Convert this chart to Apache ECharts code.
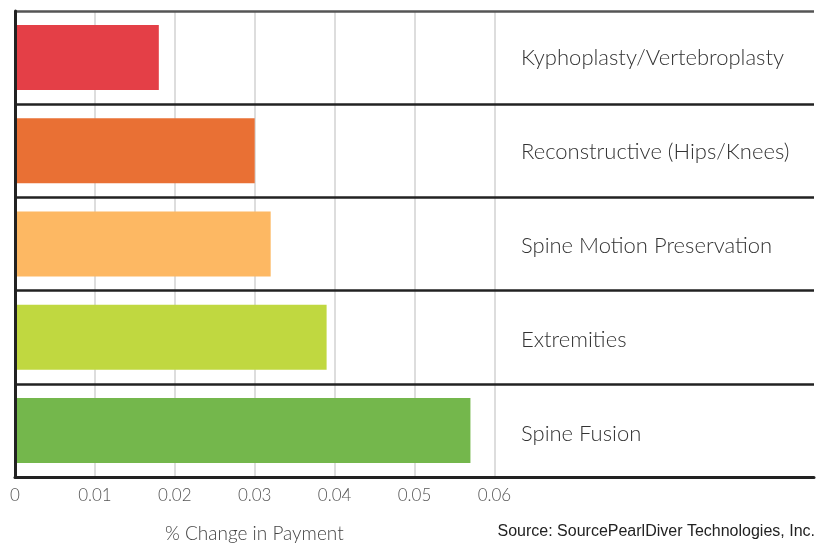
<!DOCTYPE html>
<html>
<head>
<meta charset="utf-8">
<script src="https://cdn.jsdelivr.net/npm/echarts@6/dist/echarts.min.js"></script>
<style>
  html, body { margin: 0; padding: 0; background: #fff; }
  #chart { width: 817px; height: 544px; }
</style>
</head>
<body>
<div id="chart"></div>
<script>
// Procedure categories, top to bottom
const categories = [
  'Kyphoplasty/Vertebroplasty',
  'Reconstructive (Hips/Knees)',
  'Spine Motion Preservation',
  'Extremities',
  'Spine Fusion'
];
// % change in payment for each category
const values = [0.018, 0.030, 0.032, 0.039, 0.057];
const barColors = ['#E43F47', '#E97034', '#FDB863', '#C0D840', '#74B74C'];
// Labelled ticks on the value axis
const tickLabels = ['0', '0.01', '0.02', '0.03', '0.04', '0.05', '0.06'];

const axisFont = "'Lato', 'Open Sans', sans-serif";

// Vertical grid lines only for the labelled ticks (0.01 – 0.06)
const splitColors = [];
for (let i = 0; i <= 10; i++) {
  splitColors.push(i >= 1 && i <= 6 ? '#d2d2d2' : 'rgba(0,0,0,0)');
}

// Category label styles: each row's text sits slightly lower than the one above
const labelRich = {};
for (let i = 0; i < categories.length; i++) {
  labelRich['n' + i] = {
    color: '#333',
    fontSize: 22,
    fontFamily: axisFont,
    fontWeight: 300,
    padding: [i * 2, 0, 0, 0]
  };
}

const chart = echarts.init(document.getElementById('chart'));
chart.setOption({
  animation: false,
  backgroundColor: '#ffffff',
  grid: { left: 15, right: 0, top: 11, bottom: 67 },
  xAxis: {
    type: 'value',
    min: 0,
    max: 0.1,
    interval: 0.01,
    axisLine: { show: true, lineStyle: { color: '#222', width: 3 } },
    axisTick: { show: false },
    axisLabel: {
      color: '#555',
      fontSize: 17,
      fontFamily: axisFont,
      fontWeight: 300,
      margin: 10,
      formatter: function (v) {
        const i = Math.round(v * 100);
        return i < tickLabels.length ? tickLabels[i] : '';
      }
    },
    splitLine: { show: true, lineStyle: { color: splitColors, width: 1.5 } }
  },
  yAxis: {
    type: 'category',
    data: categories,
    inverse: true,
    axisLine: { show: true, lineStyle: { color: '#222', width: 3 } },
    axisTick: { show: false },
    axisLabel: {
      inside: true,
      margin: 506,
      align: 'left',
      formatter: function (v, idx) { return '{n' + idx + '|' + v + '}'; },
      rich: labelRich
    },
    splitLine: {
      show: true,
      lineStyle: { color: ['#555', '#222', '#222', '#222', '#222', '#222'], width: 2.5 }
    },
    z: 5
  },
  series: [{
    type: 'bar',
    data: values.map((v, i) => ({ value: v, itemStyle: { color: barColors[i] } })),
    barWidth: 65,
    z: 3
  }],
  graphic: [
    {
      type: 'text',
      left: 165,
      top: 524,
      style: {
        text: '% Change in Payment',
        fill: '#444',
        font: "300 19px 'Lato', 'Open Sans', sans-serif"
      }
    },
    {
      type: 'text',
      right: 2,
      top: 524,
      style: {
        text: 'Source: SourcePearlDiver Technologies, Inc.',
        fill: '#222',
        font: "16px 'Liberation Sans', Arial, sans-serif"
      }
    }
  ]
});
</script>
</body>
</html>
